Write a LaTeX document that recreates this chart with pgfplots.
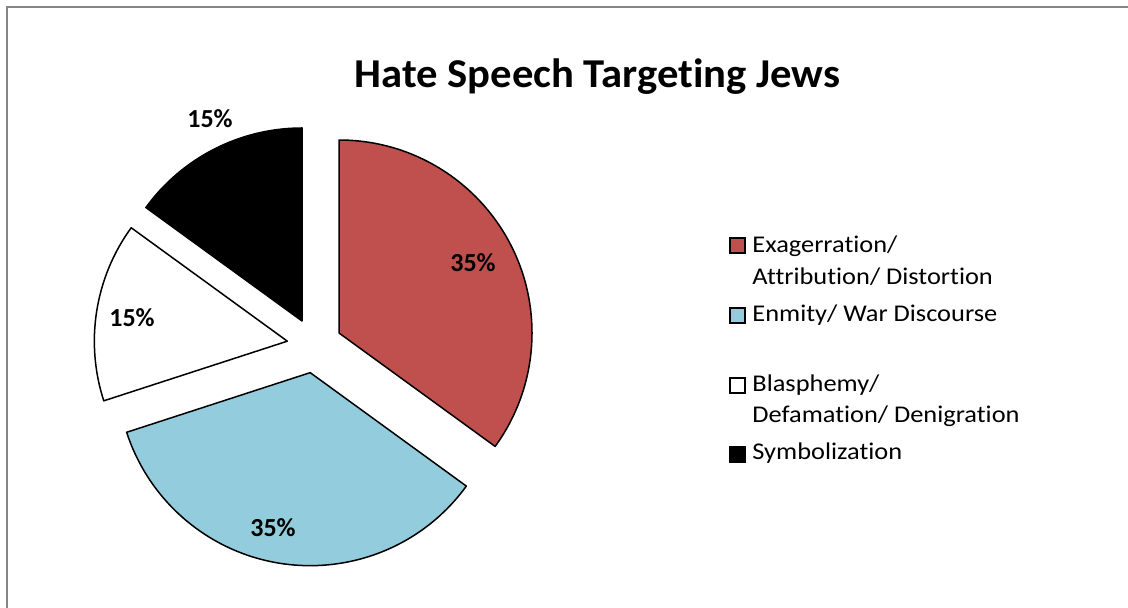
\documentclass[border=0pt]{standalone}
\usepackage{pgfplots}
\pgfplotsset{compat=1.18}
\usetikzlibrary{calc}
\usepackage{fontspec}
\setmainfont{Carlito}[RawFeature=-liga]
\newfontfamily\titlefont{Carlito}[RawFeature=-liga, FakeStretch=1.04]
\newfontfamily\legendfont{Carlito}[RawFeature=-liga, FakeStretch=1.1]

\definecolor{pieRed}{HTML}{C0504D}
\definecolor{pieBlue}{HTML}{93CDDD}
\definecolor{frameGray}{HTML}{868686}

% pie geometry (axis units = pixels of the 1128x608 canvas, y upwards)
\def\pcx{314.5}\def\pcy{262.5}
\def\prad{96.5pt}\def\pexp{13.75pt}
\def\curang{90}
% #1 share in percent, #2 fill colour; slices run clockwise from 12 o'clock
\newcommand\pieslice[2]{%
  \pgfmathsetmacro\pend{\curang-#1*3.6}%
  \pgfmathsetmacro\pmid{(\curang+\pend)/2}%
  \edef\temp{\noexpand\draw[fill=#2,line width=0.75pt,line join=round]
    ($(axis cs:\pcx,\pcy)+(\pmid:\pexp)$) -- +(\curang:\prad)
    arc[start angle=\curang,end angle=\pend,radius=\prad] -- cycle;}%
  \temp
  \global\let\curang\pend
}

\begin{document}
\begin{tikzpicture}
\path[use as bounding box] (0,0) rectangle (564pt,304pt);
\begin{axis}[at={(0,0)}, anchor=south west, scale only axis,
  x=0.5pt, y=0.5pt, xmin=0, xmax=1128, ymin=0, ymax=608,
  hide axis, clip=false]
  % chart frame
  \draw[frameGray, line width=1pt] (axis cs:7,-5) -- (axis cs:7,600.5) -- (axis cs:1135,600.5);

  \pieslice{35}{pieRed}
  \pieslice{35}{pieBlue}
  \pieslice{15}{white}
  \pieslice{15}{black}

  % data labels
  \begin{scope}[font=\fontsize{13}{15}\selectfont\bfseries]
    \node at (axis cs:473,345) {35\%};
    \node at (axis cs:273,80) {35\%};
    \node at (axis cs:132,290) {15\%};
    \node at (axis cs:210,489) {15\%};
  \end{scope}

  % title
  \node[anchor=base, font=\titlefont\fontsize{20.5}{24}\selectfont\bfseries] at (axis cs:597.5,520) {Hate Speech Targeting Jews};

  % legend
  \begin{scope}[font=\legendfont\fontsize{12}{14}\selectfont]
    \draw[fill=pieRed, line width=0.6pt] (axis cs:730,355) rectangle (axis cs:745,370);
    \draw[fill=pieBlue, line width=0.6pt] (axis cs:730,285) rectangle (axis cs:745,300);
    \draw[fill=white, line width=0.6pt] (axis cs:730,215) rectangle (axis cs:745,230);
    \draw[fill=black, line width=0.6pt] (axis cs:730,146) rectangle (axis cs:745,161);
    \node[anchor=base west, inner sep=0pt] at (axis cs:752,355) {Exagerration/};
    \node[anchor=base west, inner sep=0pt] at (axis cs:752,323) {Attribution/ Distortion};
    \node[anchor=base west, inner sep=0pt] at (axis cs:752,286) {Enmity/ War Discourse};
    \node[anchor=base west, inner sep=0pt] at (axis cs:752,216) {Blasphemy/};
    \node[anchor=base west, inner sep=0pt] at (axis cs:752,185) {Defamation/ Denigration};
    \node[anchor=base west, inner sep=0pt] at (axis cs:752,148) {Symbolization};
  \end{scope}
\end{axis}
\end{tikzpicture}
\end{document}
